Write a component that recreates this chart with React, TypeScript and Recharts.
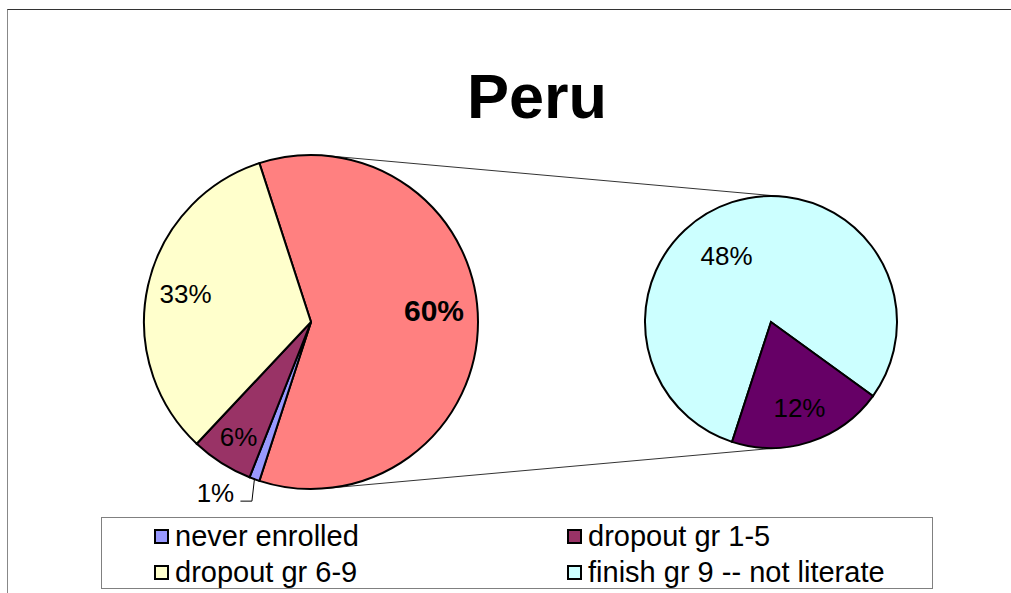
import React from "react";
import { PieChart, Pie, Cell, Customized } from "recharts";

const chartTitle = "Peru";

// primary pie: shown slices
const mainNames = ["never enrolled", "dropout gr 1-5", "dropout gr 6-9"];
const mainValues = [1, 6, 33];

// secondary pie: the split-out part of the primary pie
const splitNames = ["finish gr 9 -- not literate", "finish gr 9 -- literate"];
const splitValues = [48, 12];

const legendNames = ["never enrolled", "dropout gr 1-5", "dropout gr 6-9", "finish gr 9 -- not literate"];

const OTHER = "other";

const COLORS: Record<string, string> = {
  "never enrolled": "#9999FF",
  "dropout gr 1-5": "#993366",
  "dropout gr 6-9": "#FFFFCC",
  "finish gr 9 -- not literate": "#CCFFFF",
  "finish gr 9 -- literate": "#660066",
  other: "#FF8080",
};

// where each label sits: fraction of radius + angle in degrees (null = slice mid angle)
const LABEL_SPOT: Record<string, { r: number; a: number | null; bold?: boolean }> = {
  other: { r: 0.74, a: 5.6, bold: true },
  "dropout gr 6-9": { r: 0.77, a: null },
  "dropout gr 1-5": { r: 0.81, a: null },
  "finish gr 9 -- not literate": { r: 0.63, a: 124 },
  "finish gr 9 -- literate": { r: 0.72, a: -71.7 },
};

const FONT = '"Liberation Sans", Arial, sans-serif';
const W = 1011;
const H = 593;

const MAIN = { cx: 311, cy: 322, r: 167 };
const SPLIT = { cx: 771, cy: 322, r: 126 };

const total = mainValues.reduce((s, v) => s + v, 0) + splitValues.reduce((s, v) => s + v, 0);

const mainData = [
  { name: OTHER, value: splitValues.reduce((s, v) => s + v, 0) },
  ...mainNames.map((name, i) => ({ name, value: mainValues[i] })),
];
const splitData = splitNames.map((name, i) => ({ name, value: splitValues[i] }));

const RAD = Math.PI / 180;

function renderLabel(props: any) {
  const { cx, cy, outerRadius, midAngle, value, name } = props;
  const text = `${Math.round((value / total) * 100)}%`;
  const spot = LABEL_SPOT[name];
  if (!spot) {
    // tiny slice: label outside with an elbow leader
    const ax = cx + outerRadius * Math.cos(-midAngle * RAD);
    const ay = cy - outerRadius * Math.sin(midAngle * RAD);
    const ey = ay + 22;
    return (
      <g>
        <path d={`M${ax},${ay} L${ax - 2.5},${ey} L${ax - 14},${ey}`} stroke="#000" strokeWidth={1} fill="none" />
        <text x={ax - 39} y={ey - 8 + 9.3} textAnchor="middle" fontSize={26} fontFamily={FONT} fill="#000">
          {text}
        </text>
      </g>
    );
  }
  const ang = (spot.a === null ? midAngle : spot.a) * RAD;
  const rr = outerRadius * spot.r;
  const x = cx + rr * Math.cos(ang);
  const y = cy - rr * Math.sin(ang);
  const fs = spot.bold ? 30 : 26;
  return (
    <text
      x={x}
      y={y + fs * 0.358}
      textAnchor="middle"
      fontSize={fs}
      fontWeight={spot.bold ? "bold" : "normal"}
      fontFamily={FONT}
      fill="#000"
    >
      {text}
    </text>
  );
}

// outer tangent lines joining the two pies
function Connectors() {
  const d = SPLIT.cx - MAIN.cx;
  const t = Math.asin((MAIN.r - SPLIT.r) / d);
  const a = Math.PI / 2 - t;
  const lines = [1, -1].map((s) => ({
    x1: MAIN.cx + MAIN.r * Math.cos(a),
    y1: MAIN.cy - s * MAIN.r * Math.sin(a),
    x2: SPLIT.cx + SPLIT.r * Math.cos(a),
    y2: SPLIT.cy - s * SPLIT.r * Math.sin(a),
  }));
  return (
    <g>
      {lines.map((l, i) => (
        <line key={i} {...l} stroke="#333" strokeWidth={1} />
      ))}
      <text x={537} y={118} textAnchor="middle" fontSize={63} fontWeight="bold" fontFamily={FONT} fill="#000">
        {chartTitle}
      </text>
    </g>
  );
}

function LegendBox() {
  const cols = [52, 465];
  const rows = [18, 54];
  return (
    <div
      style={{
        position: "absolute",
        left: 101,
        top: 517,
        width: 832,
        height: 72,
        boxSizing: "border-box",
        border: "1px solid #808080",
        background: "#fff",
        fontFamily: FONT,
      }}
    >
      {legendNames.map((name, i) => (
        <div
          key={name}
          style={{
            position: "absolute",
            left: cols[i % 2],
            top: rows[Math.floor(i / 2)] - 16,
            height: 32,
            display: "flex",
            alignItems: "center",
            whiteSpace: "nowrap",
          }}
        >
          <span
            style={{
              width: 15,
              height: 15,
              boxSizing: "border-box",
              border: "2px solid #000",
              background: COLORS[name],
              marginRight: 6,
              display: "inline-block",
            }}
          />
          <span style={{ fontSize: 29, color: "#000", lineHeight: "32px" }}>{name}</span>
        </div>
      ))}
    </div>
  );
}

export default function App() {
  return (
    <div style={{ position: "relative", width: W, height: H, overflow: "hidden", background: "#fff" }}>
      <style>{`body{margin:0;overflow:hidden}`}</style>
      <div
        style={{
          position: "absolute",
          left: 7,
          top: 9,
          width: W,
          height: H,
          borderTop: "1px solid #333",
          borderLeft: "1px solid #888",
        }}
      />
      <div style={{ position: "absolute", left: 0, top: 0 }}>
        <PieChart width={W} height={H} margin={{ top: 0, right: 0, bottom: 0, left: 0 }}>
          <Customized component={Connectors} />
          <Pie
            data={mainData}
            dataKey="value"
            nameKey="name"
            cx={MAIN.cx}
            cy={MAIN.cy}
            outerRadius={MAIN.r}
            startAngle={108}
            endAngle={-252}
            stroke="#000"
            strokeWidth={2}
            label={renderLabel}
            labelLine={false}
            isAnimationActive={false}
          >
            {mainData.map((d) => (
              <Cell key={d.name} fill={COLORS[d.name]} />
            ))}
          </Pie>
          <Pie
            data={splitData}
            dataKey="value"
            nameKey="name"
            cx={SPLIT.cx}
            cy={SPLIT.cy}
            outerRadius={SPLIT.r}
            startAngle={-36}
            endAngle={324}
            stroke="#000"
            strokeWidth={2}
            label={renderLabel}
            labelLine={false}
            isAnimationActive={false}
          >
            {splitData.map((d) => (
              <Cell key={d.name} fill={COLORS[d.name]} />
            ))}
          </Pie>
        </PieChart>
      </div>
      <LegendBox />
    </div>
  );
}
